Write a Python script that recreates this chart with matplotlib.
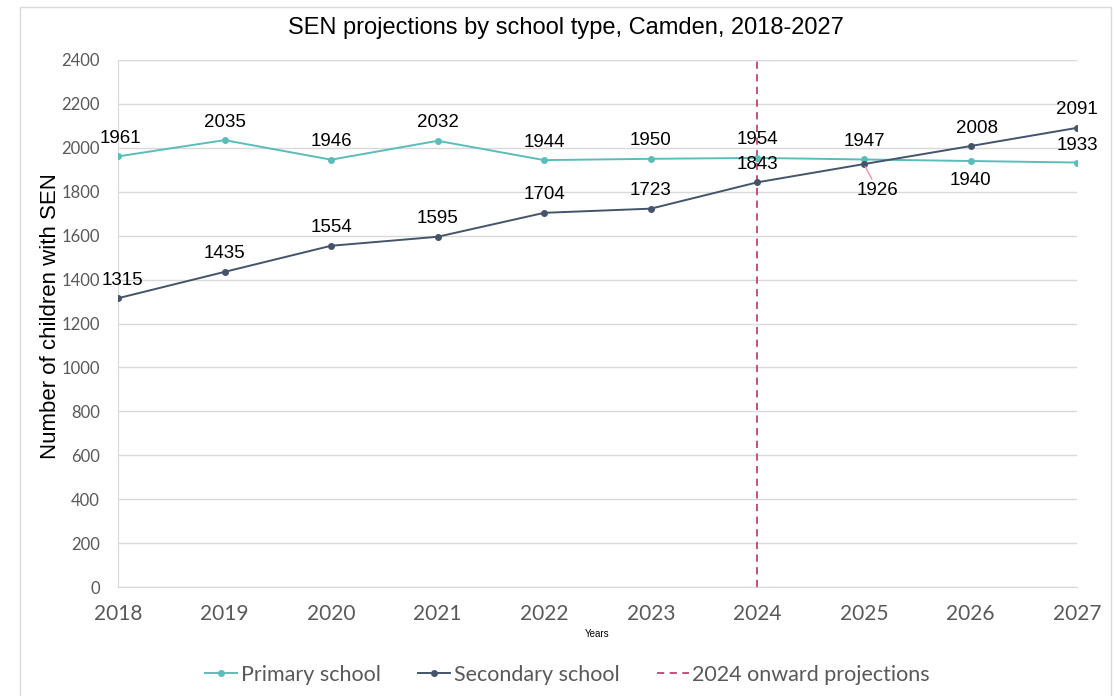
import matplotlib
matplotlib.use('Agg')
import matplotlib.pyplot as plt
from matplotlib.patches import Rectangle

years = [2018, 2019, 2020, 2021, 2022, 2023, 2024, 2025, 2026, 2027]
primary = [1961, 2035, 1946, 2032, 1944, 1950, 1954, 1947, 1940, 1933]
secondary = [1315, 1435, 1554, 1595, 1704, 1723, 1843, 1926, 2008, 2091]
projection_year = 2024
yticks = list(range(0, 2401, 200))

# label offsets in points (dx, dy); most labels sit above the point
primary_offsets = [(2, 13)] + [(0, 13)] * 7 + [(0, -14), (0, 12)]
secondary_offsets = [(3, 13)] + [(0, 13)] * 6 + [(10, -19), (5, 13), (0, 13)]

teal = '#5BBDB9'
navy = '#44546A'
crimson = '#C0426E'
grid_col = '#D9D9D9'
tick_col = '#595959'

fig = plt.figure(figsize=(11.15, 6.96), dpi=100)
ax = fig.add_axes([0.1058, 0.1566, 0.8602, 0.7572])

fig.patches.append(Rectangle((0.018, -0.01), 0.978, 1.0, transform=fig.transFigure,
                             fill=False, edgecolor=grid_col, linewidth=1))

ax.axvline(projection_year, color=crimson, linestyle=(0, (4, 3)), linewidth=1.3,
           label='2024 onward projections', zorder=2)
ax.plot(years, primary, color=teal, linewidth=1.4, marker='o', markersize=4,
        label='Primary school', zorder=3)
ax.plot(years, secondary, color=navy, linewidth=1.4, marker='o', markersize=4,
        label='Secondary school', zorder=3)

for x, y, off in zip(years, primary, primary_offsets):
    ax.annotate(str(y), (x, y), xytext=off, textcoords='offset points',
                ha='center', va='center', fontsize=13.5, family='Liberation Sans')
for x, y, off in zip(years, secondary, secondary_offsets):
    if off[0] > 5:
        # 1926 sits below the crossing, with a small leader line
        ax.annotate(str(y), (x, y), xytext=off, textcoords='offset points',
                    ha='center', va='center', fontsize=13.5, family='Liberation Sans',
                    arrowprops=dict(arrowstyle='-', color='#E595AE', lw=1.0,
                                    shrinkA=0, shrinkB=2))
    else:
        ax.annotate(str(y), (x, y), xytext=off, textcoords='offset points',
                    ha='center', va='center', fontsize=13.5, family='Liberation Sans')

ax.set_xlim(2018, 2027)
ax.set_ylim(0, 2400)
ax.set_xticks(years)
ax.set_yticks(yticks)
ax.tick_params(axis='both', length=0, colors=tick_col)
ax.tick_params(axis='x', labelsize=15, pad=12)
ax.tick_params(axis='y', labelsize=12, pad=13)
for lab in ax.get_xticklabels() + ax.get_yticklabels():
    lab.set_family('Lato')
ax.grid(axis='y', color=grid_col, linewidth=1)
ax.set_axisbelow(True)
for side in ['top', 'right']:
    ax.spines[side].set_visible(False)
ax.spines['left'].set_color(grid_col)
ax.spines['bottom'].set_color(grid_col)

fig.text(0.508, 1 - 28 / 696, 'SEN projections by school type, Camden, 2018-2027',
         fontsize=17, family='Liberation Sans', ha='center', va='center')
ax.set_ylabel('Number of children with SEN', fontsize=16, family='Liberation Sans')
ax.yaxis.set_label_coords(-0.059, 0.514)
ax.set_xlabel('Years', fontsize=7, family='Liberation Sans', labelpad=4)

handles, labels = ax.get_legend_handles_labels()
order = [1, 2, 0]
leg = fig.legend([handles[i] for i in order], [labels[i] for i in order],
                 loc='center', bbox_to_anchor=(0.509, 1 - 675 / 696), ncol=3,
                 frameon=False, prop={'family': 'Lato', 'size': 15.5},
                 handlelength=1.5, handletextpad=0.15, columnspacing=1.75)
for t in leg.get_texts():
    t.set_color(tick_col)

fig.savefig('out.png', dpi=100)
